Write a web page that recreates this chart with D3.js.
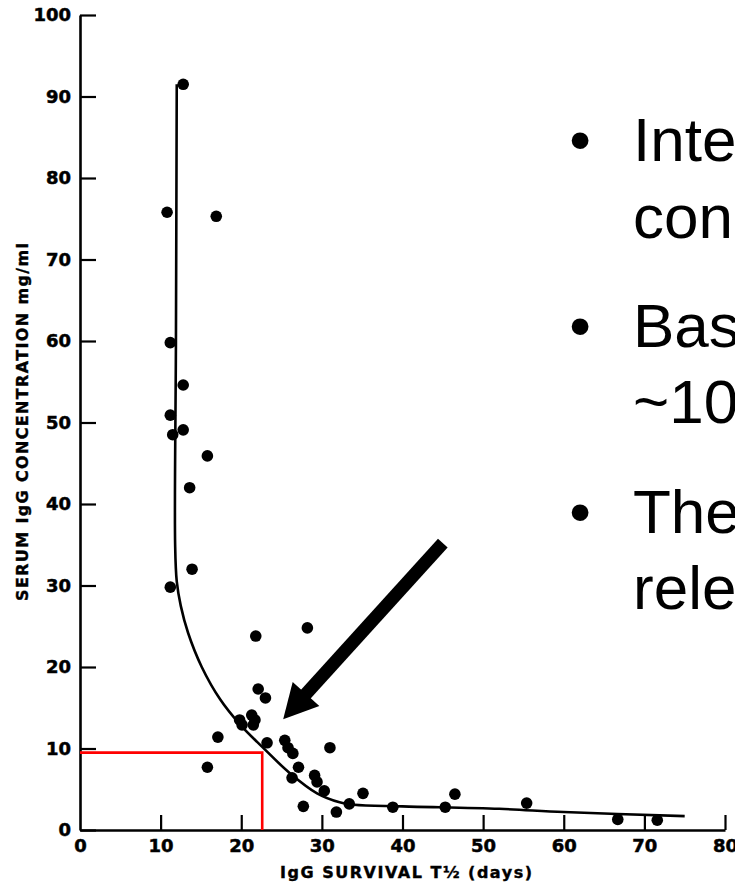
<!DOCTYPE html>
<html>
<head>
<meta charset="utf-8">
<script src="https://cdn.jsdelivr.net/npm/d3@7"></script>
<style>
  body { margin: 0; background: #fff; }
  svg { display: block; overflow: hidden; }
</style>
</head>
<body>
<div id="chart"></div>
<script>
// IgG survival half-life vs serum IgG concentration (scanned figure + slide bullets)

// scatter points: half-life (days) and serum IgG (mg/ml)
const survivalDays = [12.8, 10.8, 16.9, 11.2, 12.8, 11.2, 11.5, 12.8, 15.8, 13.6, 13.9, 11.2,
    17.1, 15.8, 21.8, 28.2, 22.1, 23.0, 19.8, 20.1, 21.3, 21.7, 21.5, 23.2, 25.4, 25.8,
    26.4, 31.0, 27.1, 26.3, 29.1, 29.4, 30.3, 27.7, 31.8, 33.4, 35.1, 38.8, 45.3, 46.5,
    55.4, 66.7, 71.6];
const serumIgG = [91.5, 75.8, 75.3, 59.8, 54.6, 50.9, 48.5, 49.1, 45.9, 42.0, 32.0, 29.8,
    11.4, 7.7, 23.8, 24.8, 17.3, 16.2, 13.5, 12.9, 14.1, 13.5, 12.9, 10.7, 11.0, 10.1,
    9.4, 10.1, 7.7, 6.4, 6.7, 5.9, 4.8, 2.9, 2.2, 3.2, 4.5, 2.8, 2.8, 4.4,
    3.3, 1.3, 1.2];

// hand-drawn fitted curve
const curveDays = [12.0, 11.9, 11.8, 12.0, 12.5, 13.4, 15.1, 17.4, 19.8, 22.6, 26.0, 29.4, 32.2, 34.0, 40, 52, 60, 75];
const curveIgG  = [91.5, 60, 35, 30.5, 27.5, 24.2, 20.0, 16.0, 13.0, 10.2, 7.0, 4.5, 3.4, 3.1, 2.9, 2.6, 2.2, 1.7];

// red read-off lines (T1/2 at ~10 mg/ml)
const readDays = 22.6;
const readIgG = 9.5;

// annotation arrow: tail and tip in data units
const arrowDays = [45.0, 25.2];
const arrowIgG  = [35.2, 13.6];

const xTicks = [0, 10, 20, 30, 40, 50, 60, 70, 80];
const yTicks = [0, 10, 20, 30, 40, 50, 60, 70, 80, 90, 100];

const bulletLines = [
    ["Inter-relationship of IgG", "concentration and half-life"],
    ["Based on this curve, IgG of", "~10 mg/ml gives T\u00bd \u2248 23 days"],
    ["The curve is clinically", "relevant for IVIG dosing"]
];

const W = 735, H = 883;
const svg = d3.select("#chart").append("svg")
    .attr("width", W)
    .attr("height", H);

svg.append("rect").attr("width", W).attr("height", H).attr("fill", "#fff");

const x = d3.scaleLinear().domain([0, 80]).range([80, 725]);
const y = d3.scaleLinear().domain([0, 100]).range([830, 15]);

const labelFont = "'DejaVu Sans', sans-serif";

// Y axis (ticks point inward)
const yAxis = svg.append("g")
    .attr("transform", `translate(${x(0)},0)`)
    .call(d3.axisLeft(y).tickValues(yTicks).tickSizeInner(-16).tickSizeOuter(0).tickPadding(9));

// X axis
const xAxis = svg.append("g")
    .attr("transform", `translate(0,${y(0)})`)
    .call(d3.axisBottom(x).tickValues(xTicks).tickSizeInner(-15).tickSizeOuter(0).tickPadding(9));

[yAxis, xAxis].forEach(g => {
    g.select(".domain").attr("stroke", "#000").attr("stroke-width", 2.6);
    g.selectAll(".tick line").attr("stroke", "#000").attr("stroke-width", 2.2);
    g.selectAll(".tick text")
        .attr("fill", "#000")
        .attr("stroke", "#000")
        .attr("stroke-width", 0.5)
        .style("font-family", labelFont)
        .style("font-weight", "bold")
        .style("font-size", "18px");
});
xAxis.selectAll(".tick").filter(d => d === 0).select("line").remove();

// axis titles
svg.append("text")
    .attr("transform", "translate(28,422) rotate(-90)")
    .attr("text-anchor", "middle")
    .attr("textLength", 358)
    .attr("stroke", "#000")
    .attr("stroke-width", 0.4)
    .style("font-family", labelFont)
    .style("font-weight", "bold")
    .style("font-size", "16px")
    .text("SERUM IgG CONCENTRATION  mg/ml");

svg.append("text")
    .attr("x", 406)
    .attr("y", 878)
    .attr("text-anchor", "middle")
    .attr("textLength", 252)
    .attr("stroke", "#000")
    .attr("stroke-width", 0.4)
    .style("font-family", labelFont)
    .style("font-weight", "bold")
    .style("font-size", "16px")
    .text("IgG SURVIVAL T\u00bd (days)");

// red read-off lines
svg.append("path")
    .attr("d", `M${x(0)},${y(readIgG)}H${x(readDays)}V${y(0)}`)
    .attr("fill", "none")
    .attr("stroke", "#ff0000")
    .attr("stroke-width", 2.6);

// fitted curve
const curveData = curveDays.map((d, i) => [d, curveIgG[i]]);
svg.append("path")
    .datum(curveData)
    .attr("fill", "none")
    .attr("stroke", "#000")
    .attr("stroke-width", 2.6)
    .attr("d", d3.line()
        .x(d => x(d[0]))
        .y(d => y(d[1]))
        .curve(d3.curveCatmullRom.alpha(0.5)));

// points
svg.append("g")
    .selectAll("circle")
    .data(survivalDays.map((d, i) => [d, serumIgG[i]]))
    .join("circle")
    .attr("cx", d => x(d[0]))
    .attr("cy", d => y(d[1]))
    .attr("r", 5.8)
    .attr("fill", "#000");

// big annotation arrow
const tail = [x(arrowDays[0]), y(arrowIgG[0])];
const tip = [x(arrowDays[1]), y(arrowIgG[1])];
const len = Math.hypot(tail[0] - tip[0], tail[1] - tip[1]);
const ux = (tail[0] - tip[0]) / len, uy = (tail[1] - tip[1]) / len;
const headLen = 34, headHalf = 18;
const base = [tip[0] + ux * headLen, tip[1] + uy * headLen];
svg.append("line")
    .attr("x1", tail[0]).attr("y1", tail[1])
    .attr("x2", base[0] - ux * 2).attr("y2", base[1] - uy * 2)
    .attr("stroke", "#000")
    .attr("stroke-width", 13);
svg.append("path")
    .attr("d", `M${tip[0]},${tip[1]}L${base[0] - uy * headHalf},${base[1] + ux * headHalf}L${base[0] + uy * headHalf},${base[1] - ux * headHalf}Z`)
    .attr("fill", "#000");

// slide bullet text (runs off the right edge, as in the cropped slide)
const slideFont = "'Liberation Sans', Arial, sans-serif";
const baselines = [[161, 238], [347, 423], [533, 609]];
bulletLines.forEach((lines, i) => {
    svg.append("text")
        .attr("x", 580)
        .attr("y", baselines[i][0])
        .attr("text-anchor", "middle")
        .style("font-family", slideFont)
        .style("font-size", "62px")
        .text("\u2022");
    lines.forEach((t, j) => {
        svg.append("text")
            .attr("x", 633)
            .attr("y", baselines[i][j])
            .style("font-family", slideFont)
            .style("font-size", "62px")
            .attr("fill", "#000")
            .text(t);
    });
});
</script>
</body>
</html>
